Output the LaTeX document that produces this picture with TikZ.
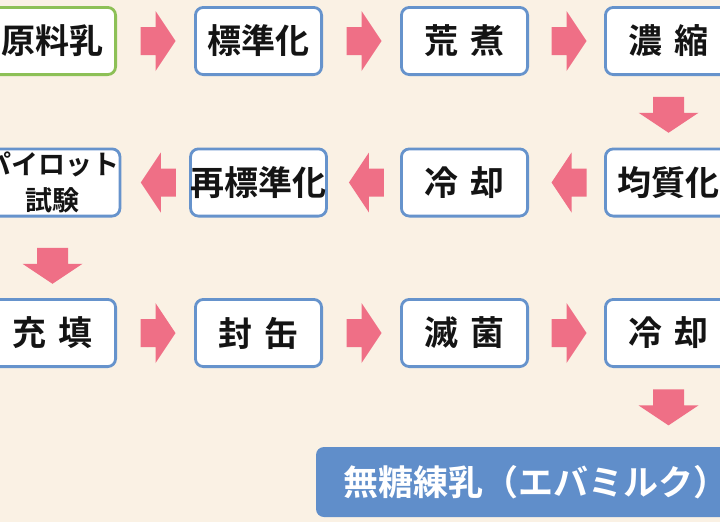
\documentclass[tikz,border=0pt]{standalone}
\usepackage{fontspec}
\usetikzlibrary{calc}
\newfontfamily\jp{Noto Sans CJK JP}[BoldFont={Noto Sans CJK JP Bold}]
\definecolor{bgcream}{HTML}{FAF1E4}
\definecolor{arrowpink}{HTML}{EF6F86}
\definecolor{boxblue}{HTML}{6693CC}
\definecolor{boxgreen}{HTML}{8DC056}
\definecolor{finalblue}{HTML}{608ECA}
\definecolor{ink}{HTML}{141414}
\begin{document}
\begin{tikzpicture}[x=1pt,y=-1pt,
  box/.style={draw=boxblue, line width=2.8pt, fill=white, rounded corners=8pt,
    minimum width=126.2pt, minimum height=67.2pt, inner sep=0pt,
    font=\jp\bfseries\fontsize{34}{40}\selectfont, text=ink, align=center},
  smalltext/.style={font=\jp\bfseries\fontsize{27}{36}\selectfont},
  finalbox/.style={fill=finalblue, rounded corners=8pt, minimum width=436pt,
    minimum height=70pt, inner sep=0pt},
  finaltext/.style={inner sep=0pt, text=white,
    font=\jp\bfseries\fontsize{35}{40}\selectfont},
  rarr/.pic={\fill[arrowpink] (-17.5,-14) -- (-2.5,-14) -- (-2.5,-30) -- (17.5,0)
    -- (-2.5,30) -- (-2.5,14) -- (-17.5,14) -- cycle;},
  larr/.pic={\fill[arrowpink] (17.5,-14) -- (2.5,-14) -- (2.5,-30) -- (-17.5,0)
    -- (2.5,30) -- (2.5,14) -- (17.5,14) -- cycle;},
  darr/.pic={\fill[arrowpink] (-15.5,-18) -- (15.5,-18) -- (15.5,-2) -- (30,-2)
    -- (0,18) -- (-30,-2) -- (-15.5,-2) -- cycle;}
]
\useasboundingbox (0,0) rectangle (720,522);
\clip (0,0) rectangle (720,522);
\fill[bgcream] (0,0) rectangle (720,522);

% row 1
\node[box, draw=boxgreen] (n1) at (52.5,41) {原料乳};
\node[box] (n2) at (258.5,41) {標準化};
\node[box] (n3) at (464.5,41) {荒\hspace{0.33em}煮};
\node[box] (n4) at (668.5,41) {濃\hspace{0.33em}縮};
% row 2
\node[box] (n5) at (668.5,182.5) {均質化};
\node[box] (n6) at (464.5,182.5) {冷\hspace{0.33em}却};
\node[box] (n7) at (258.5,182.5) {再標準化};
\node[box, smalltext] (n8) at (52.5,182.5) {パイロット\\試験};
% row 3
\node[box] (n9) at (52.5,333) {充\hspace{0.33em}填};
\node[box] (n10) at (258.5,333) {封\hspace{0.33em}缶};
\node[box] (n11) at (464.5,333) {滅\hspace{0.33em}菌};
\node[box] (n12) at (668.5,333) {冷\hspace{0.33em}却};
% final
\node[finalbox] (n13) at (534,482) {};
\node[finaltext, anchor=west] (n13t) at ($(n13.west)+(27,0)$)
  {無糖練乳（エバミルク\makebox[0.5em][l]{）}};

% arrows
\pic at ($(n1.east)!0.5!(n2.west)+(2.5,0)$) {rarr};
\pic at ($(n2.east)!0.5!(n3.west)+(2.5,0)$) {rarr};
\pic at ($(n3.east)!0.5!(n4.west)+(2.5,0)$) {rarr};
\pic at ($(n4.south)!0.5!(n5.north)+(0,3)$) {darr};
\pic at ($(n5.west)!0.5!(n6.east)+(2.5,0)$) {larr};
\pic at ($(n6.west)!0.5!(n7.east)+(2.5,0)$) {larr};
\pic at ($(n7.west)!0.5!(n8.east)+(3,0)$) {larr};
\pic at ($(n8.south)!0.5!(n9.north)+(0,8)$) {darr};
\pic at ($(n9.east)!0.5!(n10.west)+(2.5,0)$) {rarr};
\pic at ($(n10.east)!0.5!(n11.west)+(2.5,0)$) {rarr};
\pic at ($(n11.east)!0.5!(n12.west)+(2.5,0)$) {rarr};
\pic at ($(n12.south)!0.5!(n12.south |- n13.north)$) {darr};
\end{tikzpicture}
\end{document}
